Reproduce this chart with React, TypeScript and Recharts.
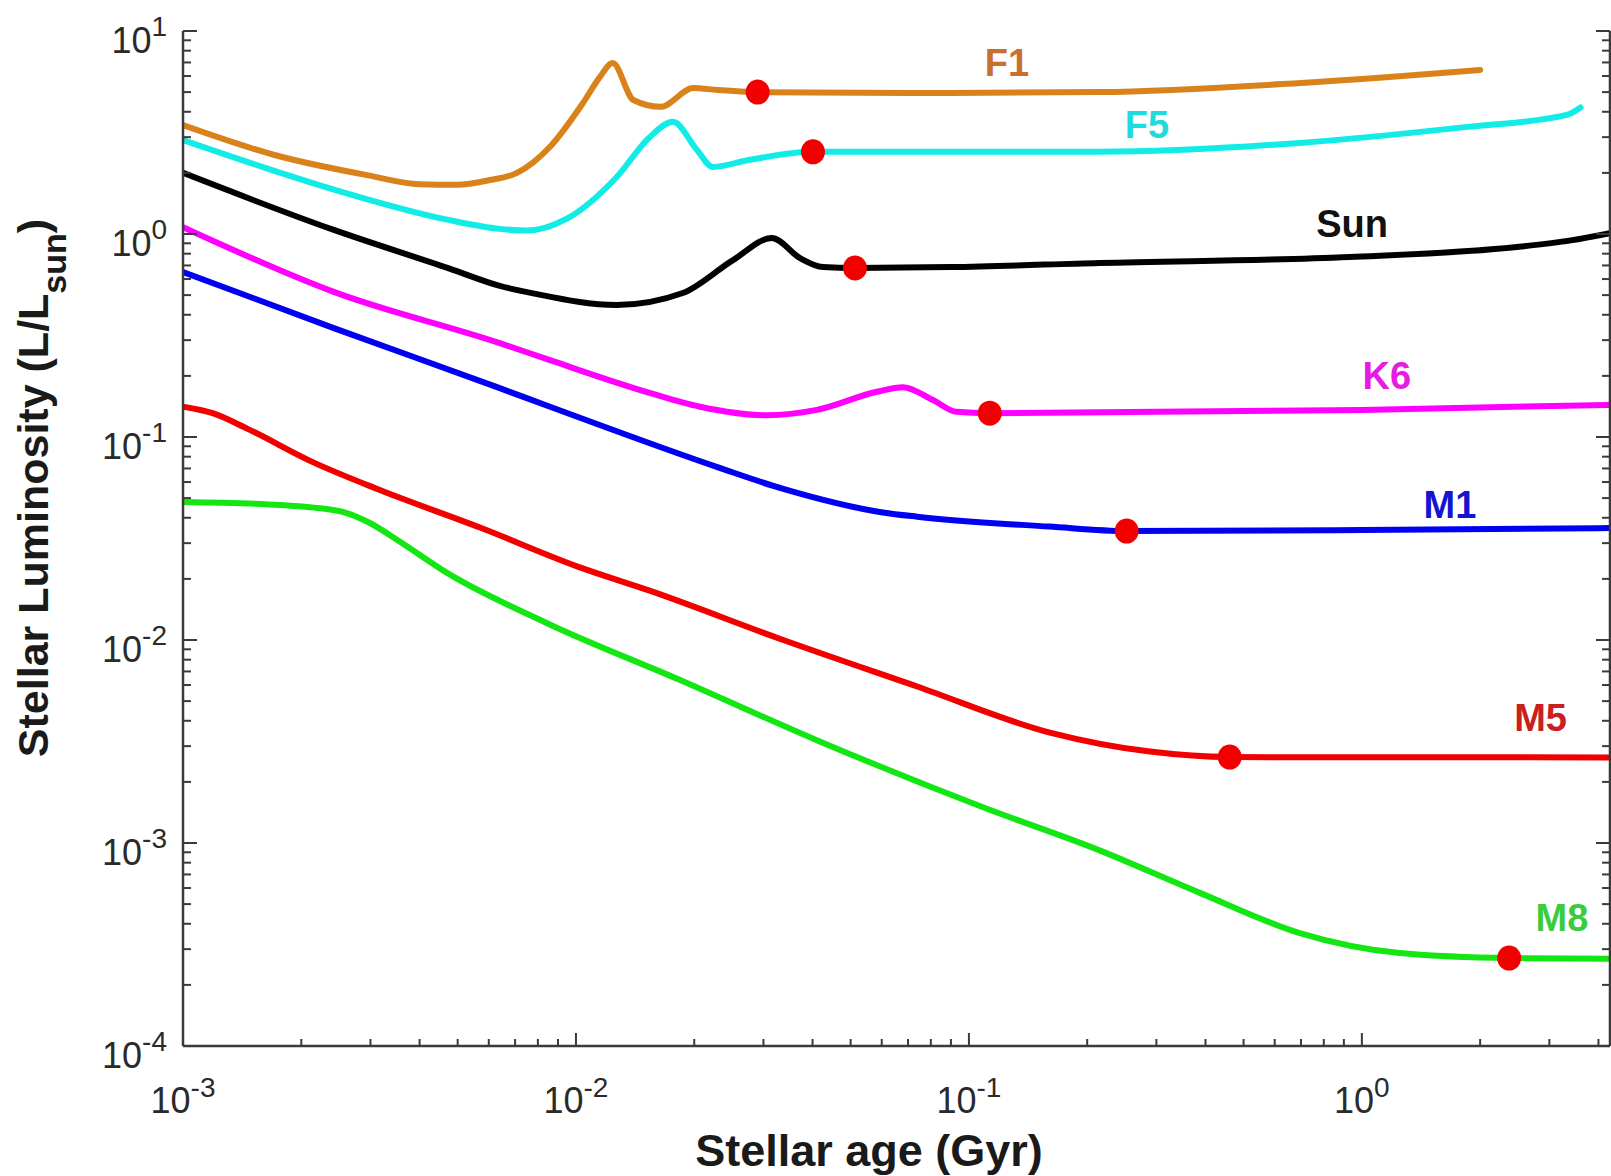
import React from 'react';
import { ComposedChart, Line, Scatter, XAxis, YAxis } from 'recharts';

// ---- data (age in Gyr, luminosity in L/Lsun) ----
const F1_AGE = [0.001, 0.00171, 0.00294, 0.004, 0.005, 0.006, 0.00708, 0.0078, 0.00859, 0.01042, 0.0115, 0.0124, 0.014, 0.0164, 0.0199, 0.0229, 0.029, 0.09, 0.215, 0.7, 2.0];
const F1_LUM = [3.44, 2.45, 1.95, 1.76, 1.75, 1.84, 2.0, 2.26, 2.69, 4.42, 5.93, 6.95, 4.57, 4.23, 5.24, 5.12, 5.0, 4.95, 5.0, 5.55, 6.43];

const F5_AGE = [0.001, 0.00164, 0.00241, 0.00477, 0.0064, 0.0075, 0.00948, 0.0127, 0.0154, 0.01766, 0.0203, 0.0223, 0.0277, 0.0401, 0.09, 0.215, 0.695, 1.85, 3.32, 3.6];
const F5_LUM = [2.9, 2.1, 1.66, 1.17, 1.06, 1.04, 1.19, 1.91, 3.0, 3.57, 2.6, 2.14, 2.32, 2.54, 2.54, 2.54, 2.81, 3.37, 3.86, 4.2];

const SUN_AGE = [0.001, 0.00241, 0.00477, 0.0064, 0.00778, 0.0127, 0.0187, 0.0251, 0.0315, 0.0372, 0.0425, 0.0513, 0.09, 0.215, 0.93, 2.48, 3.4, 4.28];
const SUN_LUM = [2.0, 1.05, 0.675, 0.555, 0.51, 0.447, 0.512, 0.744, 0.955, 0.76, 0.687, 0.68, 0.687, 0.72, 0.77, 0.863, 0.93, 1.01];

const K6_AGE = [0.001, 0.00241, 0.0064, 0.00859, 0.0154, 0.0207, 0.0306, 0.041, 0.0583, 0.0679, 0.081, 0.0931, 0.113, 1.0, 4.28];
const K6_LUM = [1.08, 0.52, 0.29, 0.239, 0.165, 0.141, 0.128, 0.136, 0.167, 0.176, 0.152, 0.133, 0.131, 0.136, 0.144];

const M1_AGE = [0.001, 0.00241, 0.0064, 0.00859, 0.0229, 0.0337, 0.0604, 0.0738, 0.16, 0.252, 1.0, 4.28];
const M1_LUM = [0.65, 0.345, 0.174, 0.141, 0.0711, 0.0555, 0.0425, 0.0405, 0.0362, 0.0344, 0.0348, 0.0356];

const M5_AGE = [0.001, 0.00119, 0.001456, 0.00214, 0.00317, 0.0057, 0.01023, 0.0154, 0.0337, 0.0738, 0.1607, 0.289, 0.461, 4.28];
const M5_LUM = [0.141, 0.131, 0.11, 0.0752, 0.0548, 0.0358, 0.0228, 0.0175, 0.01, 0.0059, 0.0035, 0.00282, 0.00265, 0.00264];

const M8_AGE = [0.001, 0.00177, 0.00223, 0.00261, 0.00299, 0.00351, 0.0047, 0.00844, 0.0184, 0.041, 0.1086, 0.215, 0.387, 0.695, 1.25, 2.37, 4.28];
const M8_LUM = [0.0479, 0.0462, 0.0446, 0.0422, 0.0377, 0.0311, 0.0214, 0.0121, 0.00635, 0.00321, 0.0015, 0.00092, 0.000568, 0.00036, 0.000287, 0.000271, 0.000269];

// ZAMS markers (red dots)
const ZAMS_AGE = [0.029, 0.0401, 0.0513, 0.113, 0.252, 0.461, 2.37];
const ZAMS_LUM = [5.0, 2.54, 0.68, 0.131, 0.0344, 0.00265, 0.000271];

// series name labels
const LABEL_NAMES = ['F1', 'F5', 'Sun', 'K6', 'M1', 'M5', 'M8'];
const LABEL_AGES = [0.125, 0.284, 0.944, 1.158, 1.675, 2.85, 3.23];
const LABEL_LUMS = [6.95, 3.44, 1.12, 0.1995, 0.0462, 0.00413, 0.000427];
const LABEL_COLORS = ['#C8702C', '#1FDCDC', '#111111', '#E41CE4', '#1414D2', '#C8201E', '#3CCB3C'];

const X_MAJOR = [0.001, 0.01, 0.1, 1];
const Y_MAJOR = [0.0001, 0.001, 0.01, 0.1, 1, 10];

const X_MIN = 0.001;
const X_MAX = 4.28;
const Y_MIN = 0.0001;
const Y_MAX = 10;

const zip = (a: number[], l: number[]) => a.map((x, i) => ({ age: x, lum: l[i] }));

const buildTicks = (lo: number, hi: number) => {
  const out: number[] = [];
  for (let d = Math.floor(Math.log10(lo)); d <= Math.ceil(Math.log10(hi)); d++) {
    for (let k = 1; k <= 9; k++) {
      const v = k * Math.pow(10, d);
      if (v >= lo * 0.999999 && v <= hi * 1.000001) out.push(v);
    }
  }
  return out;
};
const X_TICKS = buildTicks(X_MIN, X_MAX);
const Y_TICKS = buildTicks(Y_MIN, Y_MAX);

const isMajor = (v: number) => Math.abs(Math.log10(v) - Math.round(Math.log10(v))) < 1e-6;
const expOf = (v: number) => String(Math.round(Math.log10(v)));

const FONT = '"Liberation Sans", Arial, Helvetica, sans-serif';
const AXIS_COLOR = '#3a3a3a';
const TICK_TXT = '#2a2a2a';

const BottomTick = (p: any) => {
  const v = p.payload.value;
  const maj = isMajor(v);
  return (
    <g>
      <line x1={p.x} x2={p.x} y1={p.y} y2={p.y - (maj ? 13 : 7)} stroke={AXIS_COLOR} strokeWidth={2} />
      {maj && X_MAJOR.some((m) => Math.abs(m - v) / m < 1e-6) && (
        <text x={p.x} y={p.y + 67} textAnchor="middle" fontFamily={FONT} fontSize={36} fill={TICK_TXT}>
          <tspan>10</tspan>
          <tspan dy={-16} fontSize={28}>{expOf(v)}</tspan>
        </text>
      )}
    </g>
  );
};

const TopTick = (p: any) => {
  const v = p.payload.value;
  const maj = isMajor(v);
  return <line x1={p.x} x2={p.x} y1={p.y} y2={p.y + (maj ? 13 : 7)} stroke={AXIS_COLOR} strokeWidth={2} />;
};

const LeftTick = (p: any) => {
  const v = p.payload.value;
  const maj = isMajor(v);
  return (
    <g>
      <line x1={p.x} x2={p.x + (maj ? 14 : 8)} y1={p.y} y2={p.y} stroke={AXIS_COLOR} strokeWidth={2} />
      {maj && Y_MAJOR.some((m) => Math.abs(m - v) / m < 1e-6) && (
        <text x={p.x - 16} y={p.y + 22} textAnchor="end" fontFamily={FONT} fontSize={36} fill={TICK_TXT}>
          <tspan>10</tspan>
          <tspan dy={-17} fontSize={28}>{expOf(v)}</tspan>
        </text>
      )}
    </g>
  );
};

const RightTick = (p: any) => {
  const v = p.payload.value;
  const maj = isMajor(v);
  return <line x1={p.x} x2={p.x - (maj ? 14 : 8)} y1={p.y} y2={p.y} stroke={AXIS_COLOR} strokeWidth={2} />;
};

const SERIES = [
  { name: 'F1', data: zip(F1_AGE, F1_LUM), color: '#D9821A' },
  { name: 'F5', data: zip(F5_AGE, F5_LUM), color: '#12ECE6' },
  { name: 'Sun', data: zip(SUN_AGE, SUN_LUM), color: '#000000' },
  { name: 'K6', data: zip(K6_AGE, K6_LUM), color: '#FF00FF' },
  { name: 'M1', data: zip(M1_AGE, M1_LUM), color: '#0000F2' },
  { name: 'M5', data: zip(M5_AGE, M5_LUM), color: '#F20000' },
  { name: 'M8', data: zip(M8_AGE, M8_LUM), color: '#14E614' },
];

const ZAMS = zip(ZAMS_AGE, ZAMS_LUM);
const LABELS = LABEL_NAMES.map((n, i) => ({ age: LABEL_AGES[i], lum: LABEL_LUMS[i], name: n, color: LABEL_COLORS[i] }));

const XTitle = () => (
  <text x={869} y={1166} textAnchor="middle" fontFamily={FONT} fontWeight="bold" fontSize={45} fill="#1a1a1a">
    Stellar age (Gyr)
  </text>
);

const YTitle = () => (
  <text transform="translate(48, 488) rotate(-90)" textAnchor="middle" fontFamily={FONT} fontWeight="bold" fontSize={43} fill="#1a1a1a">
    <tspan>Stellar Luminosity (L/L</tspan>
    <tspan dy={18} fontSize={34}>sun</tspan>
    <tspan dy={-18}>)</tspan>
  </text>
);

export default function App() {
  return (
    <div style={{ position: 'absolute', left: 0, top: 0, width: 1611, height: 1176, background: '#fff' }}>
      <ComposedChart width={1611} height={1176} margin={{ top: 31, right: 0, bottom: 0, left: 0 }}>
        <XAxis
          dataKey="age"
          type="number"
          scale="log"
          domain={[X_MIN, X_MAX]}
          allowDataOverflow
          ticks={X_TICKS}
          interval={0}
          tick={(p: any) => <BottomTick {...p} />}
          tickLine={false}
          tickSize={0}
          tickMargin={0}
          height={130}
          axisLine={{ stroke: AXIS_COLOR, strokeWidth: 2.5 }}
        />
        <XAxis
          xAxisId="top"
          orientation="top"
          dataKey="age"
          type="number"
          scale="log"
          domain={[X_MIN, X_MAX]}
          allowDataOverflow
          ticks={X_TICKS}
          interval={0}
          tick={(p: any) => <TopTick {...p} />}
          tickLine={false}
          tickSize={0}
          tickMargin={0}
          height={0}
          axisLine={{ stroke: AXIS_COLOR, strokeWidth: 2.5 }}
        />
        <YAxis
          dataKey="lum"
          type="number"
          scale="log"
          domain={[Y_MIN, Y_MAX]}
          allowDataOverflow
          ticks={Y_TICKS}
          interval={0}
          tick={(p: any) => <LeftTick {...p} />}
          tickLine={false}
          tickSize={0}
          tickMargin={0}
          width={183}
          axisLine={{ stroke: AXIS_COLOR, strokeWidth: 2.5 }}
        />
        <YAxis
          yAxisId="right"
          orientation="right"
          dataKey="lum"
          type="number"
          scale="log"
          domain={[Y_MIN, Y_MAX]}
          allowDataOverflow
          ticks={Y_TICKS}
          interval={0}
          tick={(p: any) => <RightTick {...p} />}
          tickLine={false}
          tickSize={0}
          tickMargin={0}
          width={1}
          axisLine={{ stroke: AXIS_COLOR, strokeWidth: 2.5 }}
        />
        {SERIES.map((s) => (
          <Line
            key={s.name}
            data={s.data}
            dataKey="lum"
            type="monotone"
            stroke={s.color}
            strokeWidth={6}
            strokeLinejoin="round"
            strokeLinecap="round"
            dot={false}
            activeDot={false}
            isAnimationActive={false}
          />
        ))}
        <Scatter
          data={ZAMS}
          dataKey="lum"
          isAnimationActive={false}
          shape={(p: any) => <ellipse cx={p.cx} cy={p.cy} rx={12} ry={12.5} fill="#F20000" />}
        />
        <Scatter
          data={LABELS}
          dataKey="lum"
          isAnimationActive={false}
          shape={(p: any) => (
            <text
              x={p.cx}
              y={p.cy}
              textAnchor="middle"
              dominantBaseline="central"
              fontFamily={FONT}
              fontWeight="bold"
              fontSize={38}
              fill={p.payload.color}
            >
              {p.payload.name}
            </text>
          )}
        />
        <XTitle />
        <YTitle />
      </ComposedChart>
    </div>
  );
}
